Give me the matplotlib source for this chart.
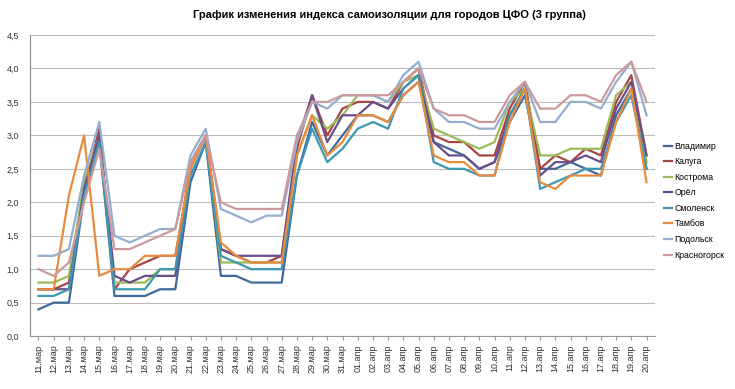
import matplotlib
matplotlib.use("Agg")
import matplotlib.pyplot as plt

dates = ["11.мар", "12.мар", "13.мар", "14.мар", "15.мар", "16.мар", "17.мар", "18.мар",
         "19.мар", "20.мар", "21.мар", "22.мар", "23.мар", "24.мар", "25.мар", "26.мар",
         "27.мар", "28.мар", "29.мар", "30.мар", "31.мар", "01.апр", "02.апр", "03.апр",
         "04.апр", "05.апр", "06.апр", "07.апр", "08.апр", "09.апр", "10.апр", "11.апр",
         "12.апр", "13.апр", "14.апр", "15.апр", "16.апр", "17.апр", "18.апр", "19.апр",
         "20.апр"]

vladimir = [0.4, 0.5, 0.5, 2.1, 2.9, 0.6, 0.6, 0.6, 0.7, 0.7, 2.3, 2.9, 0.9, 0.9, 0.8, 0.8,
            0.8, 2.4, 3.2, 2.7, 3.0, 3.3, 3.3, 3.2, 3.6, 3.8, 2.9, 2.8, 2.7, 2.5, 2.6, 3.2,
            3.6, 2.5, 2.5, 2.6, 2.5, 2.4, 3.3, 3.7, 2.5]
kaluga = [0.7, 0.7, 0.8, 2.2, 3.1, 0.7, 1.0, 1.1, 1.2, 1.2, 2.5, 3.0, 1.3, 1.2, 1.1, 1.1,
          1.2, 2.8, 3.6, 3.0, 3.4, 3.5, 3.5, 3.4, 3.8, 4.0, 3.0, 2.9, 2.9, 2.7, 2.7, 3.4,
          3.8, 2.5, 2.7, 2.6, 2.8, 2.7, 3.5, 3.9, 2.7]
kostroma = [0.8, 0.8, 0.9, 2.3, 3.0, 0.8, 0.8, 0.8, 1.0, 1.0, 2.5, 3.0, 1.1, 1.1, 1.1, 1.1,
            1.1, 2.7, 3.3, 3.1, 3.3, 3.6, 3.6, 3.5, 3.8, 3.9, 3.1, 3.0, 2.9, 2.8, 2.9, 3.5,
            3.7, 2.7, 2.7, 2.8, 2.8, 2.8, 3.6, 3.8, 2.6]
orel = [0.7, 0.7, 0.7, 2.2, 3.0, 0.9, 0.8, 0.9, 0.9, 0.9, 2.6, 3.0, 1.3, 1.2, 1.2, 1.2,
        1.2, 2.9, 3.6, 2.9, 3.3, 3.3, 3.5, 3.4, 3.7, 3.9, 2.9, 2.7, 2.7, 2.5, 2.6, 3.3,
        3.7, 2.4, 2.6, 2.6, 2.7, 2.6, 3.4, 3.8, 2.7]
smolensk = [0.6, 0.6, 0.7, 2.1, 2.9, 0.7, 0.7, 0.7, 1.0, 1.0, 2.4, 2.9, 1.2, 1.1, 1.0, 1.0,
            1.0, 2.4, 3.1, 2.6, 2.8, 3.1, 3.2, 3.1, 3.7, 3.9, 2.6, 2.5, 2.5, 2.4, 2.4, 3.3,
            3.7, 2.2, 2.3, 2.4, 2.5, 2.5, 3.2, 3.6, 2.5]
tambov = [0.7, 0.7, 2.1, 3.0, 0.9, 1.0, 1.0, 1.2, 1.2, 1.2, 2.5, 3.0, 1.4, 1.2, 1.1, 1.1,
          1.1, 2.7, 3.3, 2.7, 2.9, 3.3, 3.3, 3.2, 3.6, 3.8, 2.7, 2.6, 2.6, 2.4, 2.4, 3.2,
          3.7, 2.3, 2.2, 2.4, 2.4, 2.4, 3.2, 3.7, 2.3]
podolsk = [1.2, 1.2, 1.3, 2.4, 3.2, 1.5, 1.4, 1.5, 1.6, 1.6, 2.7, 3.1, 1.9, 1.8, 1.7, 1.8,
           1.8, 2.9, 3.5, 3.4, 3.6, 3.6, 3.6, 3.5, 3.9, 4.1, 3.4, 3.2, 3.2, 3.1, 3.1, 3.5,
           3.8, 3.2, 3.2, 3.5, 3.5, 3.4, 3.8, 4.1, 3.3]
krasnogorsk = [1.0, 0.9, 1.1, 2.0, 2.8, 1.3, 1.3, 1.4, 1.5, 1.6, 2.6, 3.0, 2.0, 1.9, 1.9, 1.9,
               1.9, 3.0, 3.5, 3.5, 3.6, 3.6, 3.6, 3.6, 3.8, 4.0, 3.4, 3.3, 3.3, 3.2, 3.2, 3.6,
               3.8, 3.4, 3.4, 3.6, 3.6, 3.5, 3.9, 4.1, 3.5]

series = [
    ("Владимир", vladimir, "#40699C"),
    ("Калуга", kaluga, "#A84442"),
    ("Кострома", kostroma, "#9BBB59"),
    ("Орёл", orel, "#6A4E8C"),
    ("Смоленск", smolensk, "#3E98B3"),
    ("Тамбов", tambov, "#E98B3E"),
    ("Подольск", podolsk, "#95AECF"),
    ("Красногорск", krasnogorsk, "#CD9A9C"),
]

plt.rcParams["font.family"] = ["Liberation Sans", "DejaVu Sans"]

fig = plt.figure(figsize=(7.35, 3.89), dpi=100)
ax = fig.add_axes([0.041, 0.136, 0.850, 0.774])

x = list(range(len(dates)))
for name, vals, col in series:
    ax.plot(x, vals, color=col, linewidth=1.6, label=name)

ax.set_ylim(0, 4.5)
ax.set_xlim(-0.55, len(dates) - 0.45)
yt = [i * 0.5 for i in range(10)]
ax.set_yticks(yt)
ax.set_yticklabels([f"{v:.1f}".replace(".", ",") for v in yt], fontsize=6.5, color="#333333")
ax.set_xticks(x)
ax.set_xticklabels(dates, rotation=90, fontsize=6.5, color="#333333")
ax.tick_params(axis="y", length=0, pad=8)
ax.tick_params(axis="x", length=3, color="#999999", pad=3)
ax.grid(axis="y", color="#BBBBBB", linewidth=0.8)
ax.set_axisbelow(True)
for s in ["top", "right"]:
    ax.spines[s].set_visible(False)
ax.spines["left"].set_color("#888888")
ax.spines["bottom"].set_color("#999999")

fig.suptitle("График изменения индекса самоизоляции для городов ЦФО (3 группа)",
             fontsize=8, fontweight="bold", x=0.53, y=0.975)

ax.legend(loc="center left", bbox_to_anchor=(1.0, 0.45), frameon=False, fontsize=6.3,
          handlelength=1.0, handletextpad=0.25, labelspacing=0.75, borderaxespad=0.6)

fig.savefig("out.png", dpi=100)
